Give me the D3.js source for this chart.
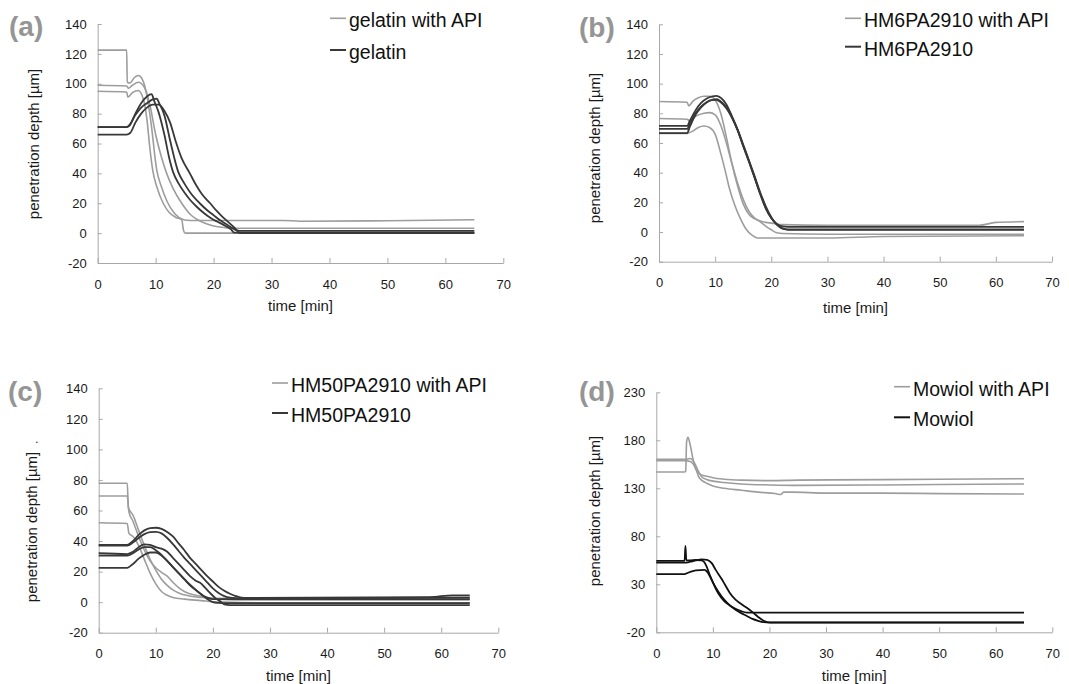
<!DOCTYPE html>
<html>
<head>
<meta charset="utf-8">
<script src="https://cdnjs.cloudflare.com/ajax/libs/d3/7.8.5/d3.min.js"></script>
<style>
  body { margin: 0; background: #fff; }
  svg { display: block; font-family: "Liberation Sans", Arial, sans-serif; }
</style>
</head>
<body>
<script>
// ---- data: [time (min), penetration depth (µm)] ----
var xTicks = [0, 10, 20, 30, 40, 50, 60, 70];
var yTicks140 = [-20, 0, 20, 40, 60, 80, 100, 120, 140];
var yTicks230 = [-20, 30, 80, 130, 180, 230];

var legendA = ['gelatin with API', 'gelatin'];
var legendB = ['HM6PA2910 with API', 'HM6PA2910'];
var legendC = ['HM50PA2910 with API', 'HM50PA2910'];
var legendD = ['Mowiol with API', 'Mowiol'];

var gelatinApi = [
  [[0,122.5],[5,122.5],[5.1,101],[5.6,100.5],[6.3,104],[7,105.5],[7.7,103],[8.5,92],[9.2,74],[10.2,42],[11,31],[12,21],[13,14.5],[14,10.5],[15,8.8],[16,8.5],[32,8.5],[35,8],[50,8.3],[65,9]],
  [[0,99],[5,98.5],[5.3,97],[6,99],[7,101],[8,98],[9,86],[10,66],[11,51],[11.9,40],[13,30],[14.5,20],[16,12.5],[17,9.5],[18,7.5],[19,6],[20,4.8],[22,3.7],[24,3.3],[65,3.3]],
  [[0,95],[5,94.5],[5.2,91],[6,94],[7,95.5],[8,88],[8.5,76],[9,57],[9.5,42],[10.2,31],[11.3,20],[12.3,14],[13.5,10.5],[14.5,9],[14.8,2],[15.1,0],[65,0]]
];
var gelatin = [
  [[0,71],[5,71],[5.5,72],[6.5,80],[7.5,87],[8.5,91.5],[9.3,93],[9.8,88],[10.5,81],[11.5,66],[12.3,51],[13,41],[14,33],[15,27],[16,22],[17,18],[18,14.5],[19,11.5],[20,9],[21,7],[22,5],[23,2.5],[23.6,0.3],[65,0.3]],
  [[0,71],[5,71],[5.5,72.5],[6.5,79],[7.5,84],[8.5,87],[9.5,89.5],[10.2,90],[10.6,87],[11.5,79],[12.5,62],[13.9,41],[15,33],[16,27],[17.6,20],[19,15],[20,12],[21,9],[22,6.5],[23,4],[24,1.8],[24.5,1.5],[65,1.5]],
  [[0,66],[5,66],[5.6,67],[6.5,74],[7.5,80],[8.5,84],[9.5,86],[10.5,86],[11.5,82],[12.5,74],[13.5,61],[14.5,50],[15.9,40],[17,32],[18,26],[19.4,20],[20.5,15],[21.5,11],[22.5,7.5],[23.5,4],[24.2,1],[24.5,0],[65,0]]
];

var hm6Api = [
  [[0,88],[5,87.5],[5.3,85],[6,88],[7,90.5],[8,91.5],[9,91.5],[10,89],[11,80],[12,64],[13,46],[14,31],[15,19],[16,12],[17,9],[18,7.5],[19,6.5],[20,6],[22,5],[30,4.5],[57,4.5],[60,6.5],[65,7]],
  [[0,76.5],[5,76],[5.5,75],[6.5,78],[8,80],[9,80.5],[10,79],[11,72],[12,60],[13,46],[14,33],[15,22],[16,14],[17,9.5],[18,7],[19,4],[20,1.5],[21,-0.5],[22,-1],[30,-1.5],[65,-1.5]],
  [[0,66.5],[5,66.5],[6,68],[7,70.5],[8,71.5],[9,70.5],[10,66],[11,53],[12,38],[12.5,30],[13.5,18],[14.5,9],[15.5,2],[16.5,-2],[17.5,-4],[30,-4],[40,-3],[65,-2.5]]
];
var hm6 = [
  [[0,71.5],[5,71.5],[5.5,75],[6.5,82],[7.5,87],[8.5,90],[9.5,91.5],[10.2,91.8],[11,90.5],[12,86],[13,78],[14,69],[15,58],[16,48],[17,37],[18,26],[19,16],[20,9.5],[21,5.5],[22,3.8],[23,3.5],[65,3.5]],
  [[0,69.5],[5,69.5],[5.5,73],[6.5,80],[7.5,84.5],[8.5,87.5],[9.5,89],[10.2,89],[11,87.5],[12,83.5],[13,77],[14,68.5],[15,58],[16,47.5],[17,37],[18,26],[19,16.5],[20,9.5],[21,5],[22,2.5],[23,1.8],[65,1.8]],
  [[0,66.6],[5,66.6],[5.5,71],[6.5,79],[7.5,84],[8.5,87.5],[9.5,89],[10.3,89.5],[11,88],[12,84],[13,77.5],[14,69],[15,59],[16,48.5],[17,38],[18,27],[19,17.5],[20,10],[21,5],[22,2.2],[23,1.5],[65,1.5]]
];

var hm50Api = [
  [[0,77.8],[5,77.8],[5.2,62],[6,57],[7,47],[8,37],[9,28],[10,21],[11,15],[12,11],[13,8],[14,6],[16,4],[18,3],[20,2.5],[25,2.5],[65,3]],
  [[0,69.5],[5,69.5],[5.3,59],[6,53],[7,43],[8,34],[9,27],[10,22.5],[11,19.5],[12,17],[13,13],[14,9.5],[15,7],[17,4.5],[19,3],[21,2],[24,1.5],[65,1.5]],
  [[0,52],[5,51.5],[5.3,45],[6,43],[7,37],[8,28],[9,19],[10,12],[11,7],[12,4.5],[13,3],[15,2],[18,1],[20,0.3],[22,0],[30,-0.5],[65,-0.5]]
];
var hm50 = [
  [[0,37.5],[5,37.5],[6,40],[7,44],[8,47],[9,48.5],[10,48.7],[11,48],[12,46],[13,43],[14,38.5],[15,34],[16,29],[17,25],[18,21],[19,17],[20,13.5],[21,10],[22,7.5],[23,5.5],[24,4],[25,3],[26,2.8],[58,3.3],[62,4.5],[65,4.5]],
  [[0,37],[5,37],[6,39],[7,42],[8,44.5],[9,45.8],[10,46],[11,45],[12,42],[13,38],[14,33.5],[15,29],[16,25],[17,21],[18,17],[19,13],[20,9],[21,6],[22,4],[23,3],[25,2.5],[65,3]],
  [[0,32],[5,31.5],[6,33],[7,36],[8,37.8],[9,37.5],[10,36],[11,35],[12,33],[13,29],[14,25],[15,21],[16,17],[17,14],[18,12],[18.5,10],[19.5,6],[20.5,2.5],[21.5,0],[22,-1.5],[23,-2],[65,-2]],
  [[0,30.5],[5,30.5],[6,32],[7,34.5],[8,36],[9,36],[10,34],[11,31],[12,27],[13,23],[14,19],[15,15],[16,11],[17,8],[18,5],[19,2],[20,0],[21,-0.5],[22,-0.7],[65,-0.7]],
  [[0,22.5],[5,22.5],[6,25],[7,28.5],[8,31],[9,32.5],[10,32.5],[11,30.5],[12,27],[13,23],[14,19],[15,15],[16,11.5],[17,8],[18,5],[19,3],[20,2],[22,2],[65,2]]
];

var mowiolApi = [
  [[0,147],[5,147],[5.2,148],[5.35,178],[5.6,183],[6,175],[6.5,160],[7,150],[7.5,146],[8,144],[9,142.5],[10,141],[12,139.5],[15,138.5],[20,138],[25,138.5],[40,139],[65,140]],
  [[0,160.2],[5,160.2],[6,161],[6.7,157],[7.5,147],[8,142],[9,139],[10,137.5],[12,136],[15,134.5],[20,133.5],[25,133],[40,133.5],[50,134],[65,134.5]],
  [[0,158.8],[5,158.8],[6,158],[7,150],[7.5,142],[8,138.5],[9,135],[10,132.5],[12,130],[15,128],[18,126],[21,124.5],[22,123.5],[22.5,126],[24,126],[30,125],[40,125],[50,124.5],[65,124]]
];
var mowiol = [
  [[0,54.5],[5,54.5],[5.15,70],[5.3,55],[6,55],[7,55.3],[8,55],[8.5,53],[9,47],[9.5,39],[10,32],[11,20],[12,12.5],[13,8],[14,4.5],[15,2],[16,0.5],[25,0.5],[65,0.5]],
  [[0,52.5],[5,52.5],[6,53.5],[7,55],[8,56],[9,55.5],[9.8,52],[10.5,45],[11.5,36],[12.1,30],[13,21],[14,14],[15,9.5],[16,5.5],[17,1],[18,-4],[19,-8],[20,-9.7],[65,-9.7]],
  [[0,40.7],[5,40.7],[6,43],[7,44.5],[8.5,45],[9,43],[9.5,38],[10,32],[11,22],[12,14],[13,8],[14,3.5],[15,0],[16,-3],[17,-6],[18,-8],[19,-9.5],[20,-10],[65,-10]]
];

// ---- layout ----
var width = 1069, height = 684;
var gray = '#9d9d9d';
var plain = function(d) { return String(d); };  // keep the hyphen minus, as in the figure

var panels = [
  { tag: '(a)', tagX: 9, tagY: 36, xr: [97.7, 503.3], yr: [263, 24], dom: [-20, 140], yTicks: yTicks140,
    api: gelatinApi, pure: gelatin, legend: legendA, legX: 330, legY: [18.3, 50],
    yTitle: [38.5, 144], xTitleY: 311, dark: '#383838' },
  { tag: '(b)', tagX: 579, tagY: 37, xr: [659, 1052], yr: [261.7, 24.3], dom: [-20, 140], yTicks: yTicks140,
    api: hm6Api, pure: hm6, legend: legendB, legX: 845, legY: [18.3, 46.7],
    yTitle: [600, 148], xTitleY: 313, dark: '#383838' },
  { tag: '(c)', tagX: 8, tagY: 401, xr: [98.7, 498.3], yr: [632.7, 388.3], dom: [-20, 140], yTicks: yTicks140,
    api: hm50Api, pure: hm50, legend: legendC, legX: 272, legY: [383, 413],
    yTitle: [36.5, 527], xTitleY: 681, dark: '#383838' },
  { tag: '(d)', tagX: 579, tagY: 401, xr: [656.3, 1052.3], yr: [632.3, 392.3], dom: [-20, 230], yTicks: yTicks230,
    api: mowiolApi, pure: mowiol, legend: legendD, legX: 894, legY: [386.7, 417.3],
    yTitle: [600, 511], xTitleY: 681, dark: '#111111' }
];

var svg = d3.select('body').append('svg')
  .attr('width', width)
  .attr('height', height);

panels.forEach(function(p) {
  var x = d3.scaleLinear().domain([0, 70]).range(p.xr),
      y = d3.scaleLinear().domain(p.dom).range(p.yr),
      g = svg.append('g');

  var line = d3.line()
    .x(function(d) { return x(d[0]); })
    .y(function(d) { return y(d[1]); })
    .curve(d3.curveMonotoneX);

  // axes
  var ax = g.append('g')
    .attr('transform', 'translate(0,' + p.yr[0] + ')')
    .call(d3.axisBottom(x).tickValues(xTicks).tickFormat(plain)
      .tickSizeInner(-5).tickSizeOuter(0).tickPadding(16.5));
  var ay = g.append('g')
    .attr('transform', 'translate(' + p.xr[0] + ',0)')
    .call(d3.axisLeft(y).tickValues(p.yTicks).tickFormat(plain)
      .tickSizeInner(-4).tickSizeOuter(0).tickPadding(11));
  [ax, ay].forEach(function(a) {
    a.attr('font-family', null).attr('font-size', 13);
    a.selectAll('path, line').attr('stroke', '#a8a8a8');
    a.selectAll('text').attr('fill', '#1a1a1a');
  });

  // series
  g.selectAll('path.api')
    .data(p.api)
    .enter().append('path')
      .attr('class', 'api')
      .attr('d', line)
      .attr('fill', 'none')
      .attr('stroke', gray)
      .attr('stroke-width', 1.6);
  g.selectAll('path.pure')
    .data(p.pure)
    .enter().append('path')
      .attr('class', 'pure')
      .attr('d', line)
      .attr('fill', 'none')
      .attr('stroke', p.dark)
      .attr('stroke-width', 1.8);

  // titles
  g.append('text')
    .attr('x', (p.xr[0] + p.xr[1]) / 2)
    .attr('y', p.xTitleY)
    .attr('text-anchor', 'middle')
    .attr('font-size', 15)
    .attr('fill', '#1a1a1a')
    .text('time [min]');
  g.append('text')
    .attr('transform', 'translate(' + p.yTitle[0] + ',' + p.yTitle[1] + ') rotate(-90)')
    .attr('text-anchor', 'middle')
    .attr('font-size', 15)
    .attr('fill', '#1a1a1a')
    .text('penetration depth [µm]');

  // panel tag
  g.append('text')
    .attr('x', p.tagX)
    .attr('y', p.tagY)
    .attr('font-size', 28)
    .attr('font-weight', 'bold')
    .attr('fill', '#959595')
    .text(p.tag);

  // legend
  var leg = g.selectAll('g.leg')
    .data(p.legend)
    .enter().append('g')
      .attr('class', 'leg')
      .attr('transform', function(d, i) { return 'translate(' + p.legX + ',' + p.legY[i] + ')'; });
  leg.append('line')
    .attr('x1', 0).attr('x2', 16)
    .attr('stroke', function(d, i) { return i ? p.dark : gray; })
    .attr('stroke-width', function(d, i) { return i ? 2 : 1.6; });
  leg.append('text')
    .attr('x', 19)
    .attr('y', 9)
    .attr('font-size', 19.5)
    .attr('fill', '#111')
    .text(function(d) { return d; });
});

// stray dot next to the (c) axis title
svg.append('text')
  .attr('x', 35).attr('y', 443)
  .attr('font-size', 13)
  .attr('fill', '#333')
  .text('.');
</script>
</body>
</html>
